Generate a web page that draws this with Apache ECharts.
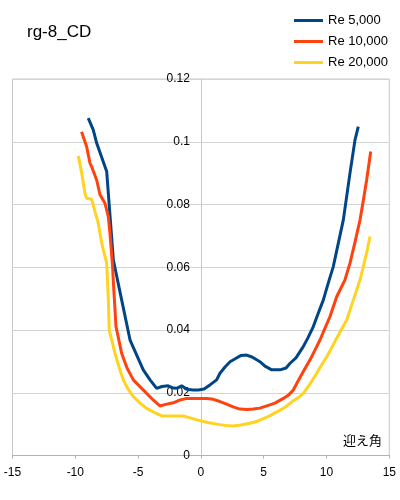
<!DOCTYPE html>
<html>
<head>
<meta charset="utf-8">
<script src="https://cdn.jsdelivr.net/npm/echarts@6/dist/echarts.min.js"></script>
<style>html,body{margin:0;padding:0;background:#fff}#c{width:400px;height:500px}</style>
</head>
<body>
<div id="c"></div>
<script>
const chartTitle = 'rg-8_CD';
const xAxisName = '迎え角';
const seriesNames = ['Re 5,000', 'Re 10,000', 'Re 20,000'];

const re5000X = [-8.97,-8.57,-8.3,-7.5,-7.29,-6.97,-6.31,-5.64,-4.59,-4.05,-3.52,-3.1,-2.6,-2.2,-1.93,-1.53,-1.13,-0.63,-0.2,0.25,0.72,1.25,1.52,1.92,2.32,2.8,3.2,3.64,4.07,4.44,4.7,5.1,5.64,6.3,6.78,7.1,7.57,8.15,8.52,8.95,9.32,9.75,10.12,10.54,11.34,11.87,12.27,12.53];
const re5000Y = [0.1075,0.1038,0.0996,0.0905,0.0793,0.0623,0.0496,0.0368,0.0273,0.0241,0.0214,0.022,0.0222,0.0215,0.0214,0.0222,0.0211,0.0209,0.0209,0.0212,0.0225,0.0241,0.0262,0.0282,0.0299,0.031,0.0319,0.032,0.0314,0.0305,0.0299,0.0285,0.0273,0.0273,0.0279,0.0294,0.0311,0.0347,0.0375,0.0411,0.0451,0.0496,0.0547,0.0602,0.0751,0.09,0.1006,0.1048];

const re10000X = [-9.5,-9.1,-8.83,-8.7,-8.3,-8.03,-7.64,-7.37,-7.24,-7.03,-6.98,-6.76,-6.31,-5.88,-5.38,-4.32,-3.8,-3.26,-2.8,-2.2,-1.66,-1.13,-0.63,-0.07,0.46,0.99,1.52,2.05,2.56,3.11,3.64,4.17,4.7,5.24,5.9,6.56,7.01,7.36,7.65,8.13,8.69,9.08,9.48,9.88,10.28,10.81,11.47,11.87,12.27,12.67,12.94,13.2,13.52];
const re10000Y = [0.1032,0.0985,0.0932,0.0921,0.0878,0.0831,0.0804,0.0761,0.0709,0.0602,0.056,0.0411,0.0326,0.0279,0.0241,0.0198,0.0177,0.0158,0.0163,0.0168,0.0177,0.0182,0.0182,0.0182,0.0182,0.0179,0.0172,0.0164,0.0155,0.0148,0.0147,0.0148,0.0151,0.0158,0.0167,0.0182,0.0194,0.0209,0.0231,0.0266,0.0305,0.0336,0.0368,0.0406,0.0443,0.0506,0.056,0.0613,0.068,0.0751,0.0815,0.0879,0.0969];

const re20000X = [-9.76,-9.49,-9.23,-9.1,-8.7,-8.43,-8.17,-7.9,-7.5,-7.44,-7.37,-7.3,-6.84,-6.52,-6.18,-5.8,-5.38,-4.85,-4.32,-3.8,-3.12,-2.3,-1.4,-0.87,-0.07,0.57,1.26,1.92,2.58,3.18,3.91,4.55,5.24,5.9,6.56,7.25,7.89,8.15,8.69,9.22,9.62,10.02,10.41,10.81,11.21,11.61,12.14,12.43,12.67,12.93,13.23,13.46];
const re20000Y = [0.0955,0.09,0.0836,0.082,0.0817,0.0777,0.074,0.0677,0.0613,0.056,0.0496,0.040,0.0326,0.0282,0.0241,0.0212,0.0188,0.0167,0.015,0.0139,0.0126,0.0126,0.0126,0.012,0.0111,0.0105,0.01,0.0096,0.0094,0.0097,0.0103,0.011,0.0122,0.0136,0.015,0.0171,0.0188,0.0198,0.0228,0.0262,0.0289,0.0315,0.0343,0.0374,0.0403,0.0432,0.0496,0.0531,0.056,0.0602,0.0652,0.0698];

const colors = ['#004586', '#ff420e', '#ffd320'];
const xs = [re5000X, re10000X, re20000X];
const ys = [re5000Y, re10000Y, re20000Y];

const font = '"Liberation Sans", Arial, sans-serif';
const gridLeft = 12.5, gridRight = 10.7;
const plotW = 400 - gridLeft - gridRight;
const chart = echarts.init(document.getElementById('c'), null, {renderer: 'canvas'});
chart.setOption({
  animation: false,
  backgroundColor: '#fff',
  title: [
    {text: chartTitle, left: 27, top: 24, padding: 0,
     textStyle: {fontFamily: font, fontSize: 17, fontWeight: 'normal', color: '#000'}},
    {text: xAxisName, left: 343, top: 434, padding: 0,
     textStyle: {fontFamily: '"Noto Sans CJK JP", sans-serif', fontSize: 13, fontWeight: 'normal', color: '#000'}}
  ],
  legend: {
    orient: 'vertical', left: 294, top: 14, padding: 0, itemGap: 8,
    itemWidth: 29, itemHeight: 3, icon: 'rect',
    textStyle: {fontFamily: font, fontSize: 13, color: '#000', lineHeight: 13},
    data: seriesNames
  },
  grid: {left: gridLeft, right: gridRight, top: 79, bottom: 44.5, show: true, borderColor: '#c8c8c8', borderWidth: 1, containLabel: false, outerBoundsMode: 'none'},
  xAxis: {
    type: 'value', min: -15, max: 15, interval: 5,
    axisLine: {show: true, onZero: false, lineStyle: {color: '#b3b3b3'}},
    axisTick: {show: true, length: 3, lineStyle: {color: '#b3b3b3'}},
    axisLabel: {fontFamily: font, fontSize: 12, color: '#000', margin: 11},
    splitLine: {show: false}
  },
  yAxis: {
    type: 'value', min: 0, max: 0.12, interval: 0.02,
    offset: -plotW / 2,
    axisLine: {show: true, onZero: false, lineStyle: {color: '#c8c8c8'}},
    axisTick: {show: false},
    axisLabel: {fontFamily: font, fontSize: 12, color: '#000', margin: 11},
    splitLine: {show: true, lineStyle: {color: '#d4d4d4'}}
  },
  series: seriesNames.map((n, i) => ({
    name: n, type: 'line', showSymbol: false, smooth: false,
    color: colors[i],
    lineStyle: {width: 3, color: colors[i]},
    data: xs[i].map((x, j) => [x, ys[i][j]])
  }))
});
</script>
</body>
</html>
